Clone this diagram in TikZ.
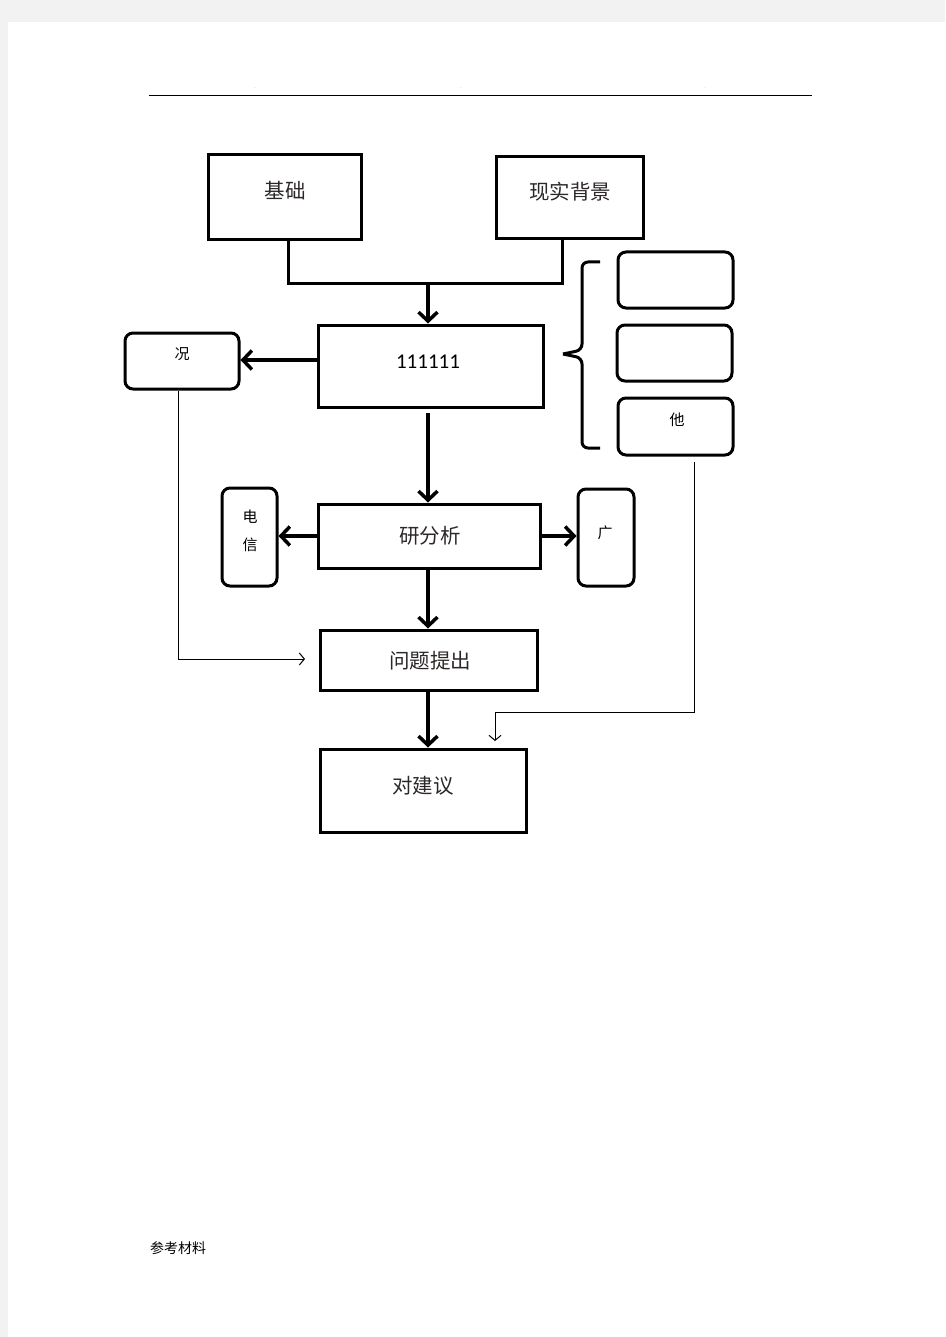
\documentclass[tikz,border=0pt]{standalone}
\usepackage{fontspec}
\newfontfamily\cjk{Noto Sans CJK SC}
\newfontfamily\calib{Carlito}
\usetikzlibrary{arrows.meta}
\definecolor{pagegray}{RGB}{242,242,242}
\definecolor{txt}{RGB}{45,40,40}
\tikzset{
  bigbox/.style={draw=black, line width=3pt, fill=white, inner sep=0pt},
  bigtxt/.style={font=\cjk\fontsize{20.5}{20.5}\selectfont, text=txt, inner sep=0pt},
  rbox/.style={draw=black, line width=3pt, fill=white, rounded corners=8pt, inner sep=0pt},
  smalltxt/.style={font=\cjk\fontsize{15}{15}\selectfont, text=black, inner sep=0pt},
  thick arrow/.style={line width=3.5pt, -{Straight Barb[length=9pt,width=19pt,line width=3.5pt]}},
  thin arrow/.style={line width=1pt, -{Straight Barb[length=5pt,width=12pt,line width=1pt]}},
  joinline/.style={line width=3pt},
  hdr/.style={font=\fontsize{4}{4}\selectfont, text=gray, inner sep=0pt},
}
\begin{document}
\begin{tikzpicture}[x=1pt,y=-1pt]
\useasboundingbox (0,0) rectangle (945,1337);
\fill[pagegray] (0,0) rectangle (945,1337);
\fill[white] (8,22) rectangle (945,1337);
% header
\draw[line width=1pt] (149,96) -- (812,96);
\node[hdr] (h1) at (255,88) {..};
\node[hdr] (h2) at (461,88) {..};
\node[hdr] (h3) at (705,88) {..};
% top boxes
\node[bigbox, minimum width=153pt, minimum height=85pt] (jc) at (284.5,197.5) {};
\node[bigtxt] (jct) at (285,191) {基础};
\node[bigbox, minimum width=147pt, minimum height=82pt] (xs) at (569.5,198) {};
\node[bigtxt] (xst) at (570,192) {现实背景};
% main box
\node[bigbox, minimum width=225pt, minimum height=82pt] (m) at (430.5,366) {};
\node[font=\calib\fontsize{21}{21}\selectfont, text=black, inner sep=0pt] (mt) at (428,362) {111111};
% join
\coordinate (jl) at (288,284);
\coordinate (jr) at (562,284);
\coordinate (jm) at (428,284);
\draw[joinline, line join=miter] (jc.south -| jl) -- (jl) -- (jr) -- (xs.south -| jr);
\draw[thick arrow] (jm) -- (m.north -| jm);
% left small box
\node[rbox, minimum width=114pt, minimum height=56pt] (k) at (182,361) {};
\node[smalltxt] (kt) at (182,354) {况};
\draw[thick arrow] (m.west |- 0,360) -- (k.east |- 0,360);
% brace
\coordinate (bt) at (600,262);
\coordinate (bb) at (600,448);
\coordinate (btip) at (563,354);
\draw[line width=3pt, rounded corners=6pt] (bt) -- (582,262) -- (582,350) -- (btip);
\draw[line width=3pt, rounded corners=6pt] (bb) -- (582,448) -- (582,358) -- (btip);
% right boxes
\node[rbox, minimum width=115pt, minimum height=56pt] (r1) at (675.5,280) {};
\node[rbox, minimum width=115pt, minimum height=56pt] (r2) at (674.5,353) {};
\node[rbox, minimum width=115pt, minimum height=57pt] (r3) at (675.5,426.5) {};
\node[smalltxt] (r3t) at (677,420) {他};
% analysis
\node[bigbox, minimum width=222pt, minimum height=64pt] (a) at (429,536) {};
\node[bigtxt] (at) at (430,536) {研分析};
\coordinate (m2) at (428,413);
\draw[thick arrow] (m2) -- (a.north -| m2);
\node[rbox, minimum width=55pt, minimum height=98pt] (dx) at (249.5,537) {};
\node[smalltxt] (dxt1) at (250,517) {电};
\node[smalltxt] (dxt2) at (250,545) {信};
\node[rbox, minimum width=56pt, minimum height=97pt] (g) at (606,537.5) {};
\node[smalltxt] (gt) at (605,533) {广};
\draw[thick arrow] (a.west) -- (dx.east |- a.west);
\draw[thick arrow] (a.east) -- (g.west |- a.east);
% problem
\node[bigbox, minimum width=217pt, minimum height=60pt] (p) at (428.5,660) {};
\node[bigtxt] (pt) at (430,661) {问题提出};
\draw[thick arrow] (a.south -| 428,0) -- (p.north -| 428,0);
% suggestions
\node[bigbox, minimum width=206pt, minimum height=83pt] (s) at (423,790.5) {};
\node[bigtxt] (st) at (423,786) {对建议};
\draw[thick arrow] (p.south -| 428,0) -- (s.north -| 428,0);
% thin connectors
\coordinate (pin) at (305,659);
\draw[thin arrow] (k.south -| 178,0) -- (178,659) -- (pin);
\coordinate (sin) at (495,741);
\draw[thin arrow] (r3.south -| 694,0) ++(0,5) -- (694,712) -- (495,712) -- (sin);
% footer
\node[font=\cjk\fontsize{14}{14}\selectfont] (ft) at (178,1248) {参考材料};
\end{tikzpicture}
\end{document}
